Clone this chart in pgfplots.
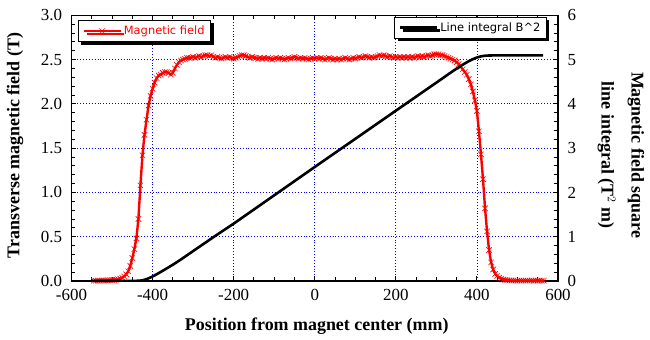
\documentclass[border=0pt]{standalone}
\usepackage{fontspec}
\setmainfont{Liberation Serif}
\newfontfamily\legfont{DejaVu Sans}
\usepackage{pgfplots}
\pgfplotsset{compat=1.18}
\usetikzlibrary{shadows}

\pgfplotsset{
  common/.style={
    scale only axis, width=486.5bp, height=265.7bp,
    xmin=-600, xmax=600,
    /pgf/number format/assume math mode=true,
    tick label style={font=\fontsize{17}{20}\selectfont},
    label style={font=\bfseries\fontsize{18}{30}\selectfont},
    tick align=inside,
    major tick length=5bp, minor tick length=4bp,
    tick style={black, line width=0.9bp},
    axis line style={line width=1.2bp},
    legend style={font=\legfont\fontsize{11.5}{13}\selectfont,
      draw=black, line width=0.8bp, fill=white,
      inner xsep=4bp, inner ysep=3.5bp,
      nodes={inner sep=2bp},
      drop shadow={shadow xshift=3bp, shadow yshift=-3bp, fill=black, opacity=1}},
    legend image code/.code={\draw[mark repeat=2,mark phase=2,##1] plot coordinates {(0bp,0bp) (18.5bp,0bp) (37bp,0bp)};},
  },
}

\begin{document}
\begin{tikzpicture}
\begin{axis}[common,
    ymin=0, ymax=3,
    xtick={-600,-400,...,600},
    ytick={0,0.5,...,3},
    minor x tick num=3,
    minor y tick num=4,
    xtick pos=both, ytick pos=left,
    xticklabel style={yshift=-5bp},
    yticklabel style={xshift=-6bp, /pgf/number format/.cd, fixed, fixed zerofill, precision=1},
    grid=major,
    major grid style={blue, line width=0.8bp, dash pattern=on 0.9bp off 2bp},
    xlabel={Position from magnet center (mm)},
    ylabel={Transverse magnetic field (T)},
    xlabel style={at={(axis description cs:0.504,-0.188)}, anchor=base},
    ylabel style={at={(axis description cs:-0.116,0.51)}, anchor=center},
    legend style={at={(0.0134,0.982)}, anchor=north west, text=red},
]
\addplot[red, line width=2.4bp, mark=x, mark size=3.8bp, mark options={line width=0.6bp}]
coordinates {
(-545,0.004) (-540,0.003) (-535,0.005) (-530,0.004) (-525,0.006) (-520,0.005) (-515,0.006) (-510,0.007)
(-505,0.008) (-500,0.010) (-495,0.012) (-490,0.015) (-485,0.020) (-480,0.027) (-475,0.037) (-470,0.052)
(-465,0.075) (-460,0.11) (-455,0.17) (-450,0.26) (-445,0.36) (-440,0.48) (-435,0.70) (-430,1.08)
(-425,1.42) (-420,1.65) (-415,1.82) (-410,1.98) (-405,2.09) (-400,2.17) (-395,2.24) (-390,2.29)
(-385,2.32) (-380,2.33) (-375,2.35) (-370,2.36) (-365,2.36) (-360,2.35) (-355,2.33) (-350,2.35)
(-345,2.40) (-340,2.44) (-335,2.47) (-330,2.49) (-325,2.50) (-320,2.51) (-315,2.52) (-310,2.52)
(-305,2.52) (-300,2.53) (-295,2.52) (-290,2.53) (-285,2.54) (-280,2.53) (-275,2.54) (-270,2.55)
(-265,2.55) (-260,2.54) (-255,2.55) (-250,2.53) (-245,2.52) (-240,2.53) (-235,2.52) (-230,2.51)
(-225,2.52) (-220,2.53) (-215,2.52) (-210,2.53) (-205,2.52) (-200,2.51) (-195,2.52) (-190,2.53)
(-185,2.54) (-180,2.55) (-175,2.55) (-170,2.54) (-165,2.53) (-160,2.52) (-155,2.53) (-150,2.52)
(-145,2.52) (-140,2.51) (-135,2.52) (-130,2.51) (-125,2.52) (-120,2.51) (-115,2.52) (-110,2.51)
(-105,2.50) (-100,2.51) (-95,2.52) (-90,2.51) (-85,2.52) (-80,2.51) (-75,2.50) (-70,2.51)
(-65,2.52) (-60,2.51) (-55,2.52) (-50,2.53) (-45,2.52) (-40,2.51) (-35,2.52) (-30,2.51)
(-25,2.52) (-20,2.51) (-15,2.50) (-10,2.51) (-5,2.52) (0,2.51) (5,2.52) (10,2.51)
(15,2.52) (20,2.51) (25,2.50) (30,2.51) (35,2.52) (40,2.51) (45,2.50) (50,2.51)
(55,2.50) (60,2.51) (65,2.50) (70,2.51) (75,2.52) (80,2.51) (85,2.50) (90,2.51)
(95,2.52) (100,2.51) (105,2.52) (110,2.53) (115,2.52) (120,2.53) (125,2.54) (130,2.53)
(135,2.52) (140,2.53) (145,2.52) (150,2.53) (155,2.54) (160,2.55) (165,2.54) (170,2.55)
(175,2.54) (180,2.53) (185,2.54) (190,2.53) (195,2.52) (200,2.53) (205,2.52) (210,2.53)
(215,2.52) (220,2.53) (225,2.52) (230,2.53) (235,2.52) (240,2.53) (245,2.52) (250,2.53)
(255,2.54) (260,2.53) (265,2.54) (270,2.53) (275,2.54) (280,2.55) (285,2.54) (290,2.55)
(295,2.56) (300,2.56) (305,2.56) (310,2.55) (315,2.55) (320,2.54) (325,2.53) (330,2.52)
(335,2.51) (340,2.50) (345,2.49) (350,2.47) (355,2.45) (360,2.42) (365,2.39) (370,2.36)
(375,2.33) (380,2.28) (385,2.22) (390,2.14) (395,2.04) (400,1.92) (405,1.69) (410,1.43)
(415,1.15) (420,0.82) (425,0.56) (430,0.35) (435,0.21) (440,0.13) (445,0.08) (450,0.055)
(455,0.038) (460,0.026) (465,0.018) (470,0.012) (475,0.009) (480,0.007) (485,0.006) (490,0.005)
(495,0.005) (500,0.004) (505,0.005) (510,0.004) (515,0.005) (520,0.004) (525,0.005) (530,0.004)
(535,0.005) (540,0.004) (545,0.005) (550,0.004) (555,0.005) (560,0.004) (565,0.004)
};
\addlegendentry{Magnetic field}
\coordinate (bl) at (rel axis cs:0,0);
\coordinate (tr) at (rel axis cs:1,1);
\end{axis}

\begin{axis}[common,
    ymin=0, ymax=6,
    axis x line=none, axis y line*=right,
    ytick={0,1,...,6},
    minor y tick num=4,
    yticklabel style={xshift=6bp},
    ylabel={Magnetic field square\\line integral (T$^{2}$ m)},
    ylabel style={at={(axis description cs:1.1295,0.474)}, anchor=center, rotate=180, align=center},
    legend style={at={(0.977,0.995)}, anchor=north east, text=black},
]
\addplot[black, line width=2.6bp]
coordinates {
(-548,0) (-500,0) (-480,0.0002) (-460,0.0005) (-450,0.0012) (-440,0.0035) (-430,0.010) (-420,0.027)
(-410,0.060) (-400,0.102) (-390,0.151) (-380,0.204) (-370,0.258) (-360,0.313) (-350,0.368) (-340,0.426)
(-330,0.487) (-320,0.550) (-310,0.613) (-250,0.990) (-200,1.295) (-150,1.615) (-100,1.935) (-50,2.255)
(0,2.575) (50,2.893) (100,3.210) (150,3.528) (200,3.846) (250,4.163) (300,4.480) (310,4.543)
(320,4.608) (330,4.672) (340,4.735) (350,4.796) (360,4.855) (370,4.912) (380,4.964) (390,5.010)
(400,5.047) (410,5.073) (420,5.087) (430,5.092) (440,5.094) (500,5.095) (563,5.095)
};
\addlegendentry{Line integral B\^{}2}
\end{axis}
\pgfresetboundingbox
\path[use as bounding box] ([shift={(-71.5bp,-59bp)}]bl) rectangle ([shift={(92bp,15.3bp)}]tr);
\end{tikzpicture}
\end{document}
